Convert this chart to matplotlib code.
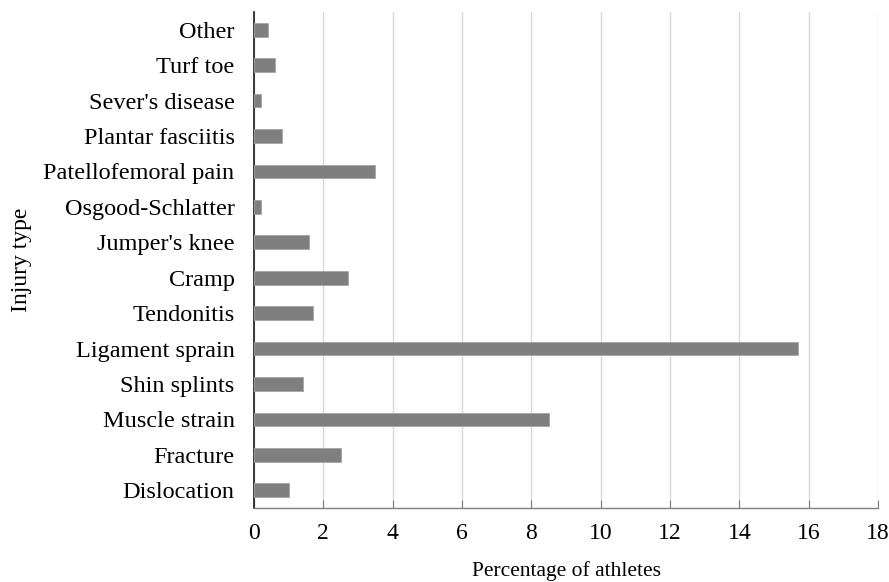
import matplotlib

matplotlib.use("Agg")
import matplotlib.pyplot as plt

INJURIES = [
    "Dislocation",
    "Fracture",
    "Muscle strain",
    "Shin splints",
    "Ligament sprain",
    "Tendonitis",
    "Cramp",
    "Jumper's knee",
    "Osgood-Schlatter",
    "Patellofemoral pain",
    "Plantar fasciitis",
    "Sever's disease",
    "Turf toe",
    "Other",
]
PERCENTAGES = [1.0, 2.5, 8.5, 1.4, 15.7, 1.7, 2.7, 1.6, 0.2, 3.5, 0.8, 0.2, 0.6, 0.4]
X_TICKS = list(range(0, 19, 2))

plt.rcParams.update({"font.family": ["Liberation Serif", "DejaVu Serif"]})

fig = plt.figure(figsize=(8.89, 5.82), dpi=100)
ax = fig.add_axes([254 / 889, 1 - 508 / 582, 624 / 889, 496 / 582])

positions = range(len(INJURIES))
ax.barh(
    positions,
    PERCENTAGES,
    height=0.39,
    color="#7f7f7f",
    edgecolor="#a6a6a6",
    linewidth=0.6,
    zorder=3,
)

ax.set_yticks(list(positions), INJURIES, fontsize=17.5)
ax.set_ylim(-0.5, len(INJURIES) - 0.5)
ax.set_xlim(0, 18)
ax.set_xticks(X_TICKS, [str(t) for t in X_TICKS], fontsize=17)

ax.grid(axis="x", color="#d9d9d9", linewidth=1.0, zorder=0)
ax.set_axisbelow(True)
ax.spines["top"].set_visible(False)
ax.spines["right"].set_visible(False)
ax.spines["left"].set_color("#1a1a1a")
ax.spines["left"].set_linewidth(1.2)
ax.spines["bottom"].set_color("#7f7f7f")
ax.spines["bottom"].set_linewidth(1.0)
ax.tick_params(axis="y", length=0, pad=14, colors="black")
ax.tick_params(axis="x", direction="in", length=6, pad=11, labelcolor="black", color="#7f7f7f")

ax.set_xlabel("Percentage of athletes", fontsize=15.5)
ax.set_ylabel("Injury type", fontsize=17)
ax.xaxis.set_label_coords(0.5, -0.108)
ax.yaxis.set_label_coords(-0.356, 0.5)

fig.savefig("out.png", dpi=100)
